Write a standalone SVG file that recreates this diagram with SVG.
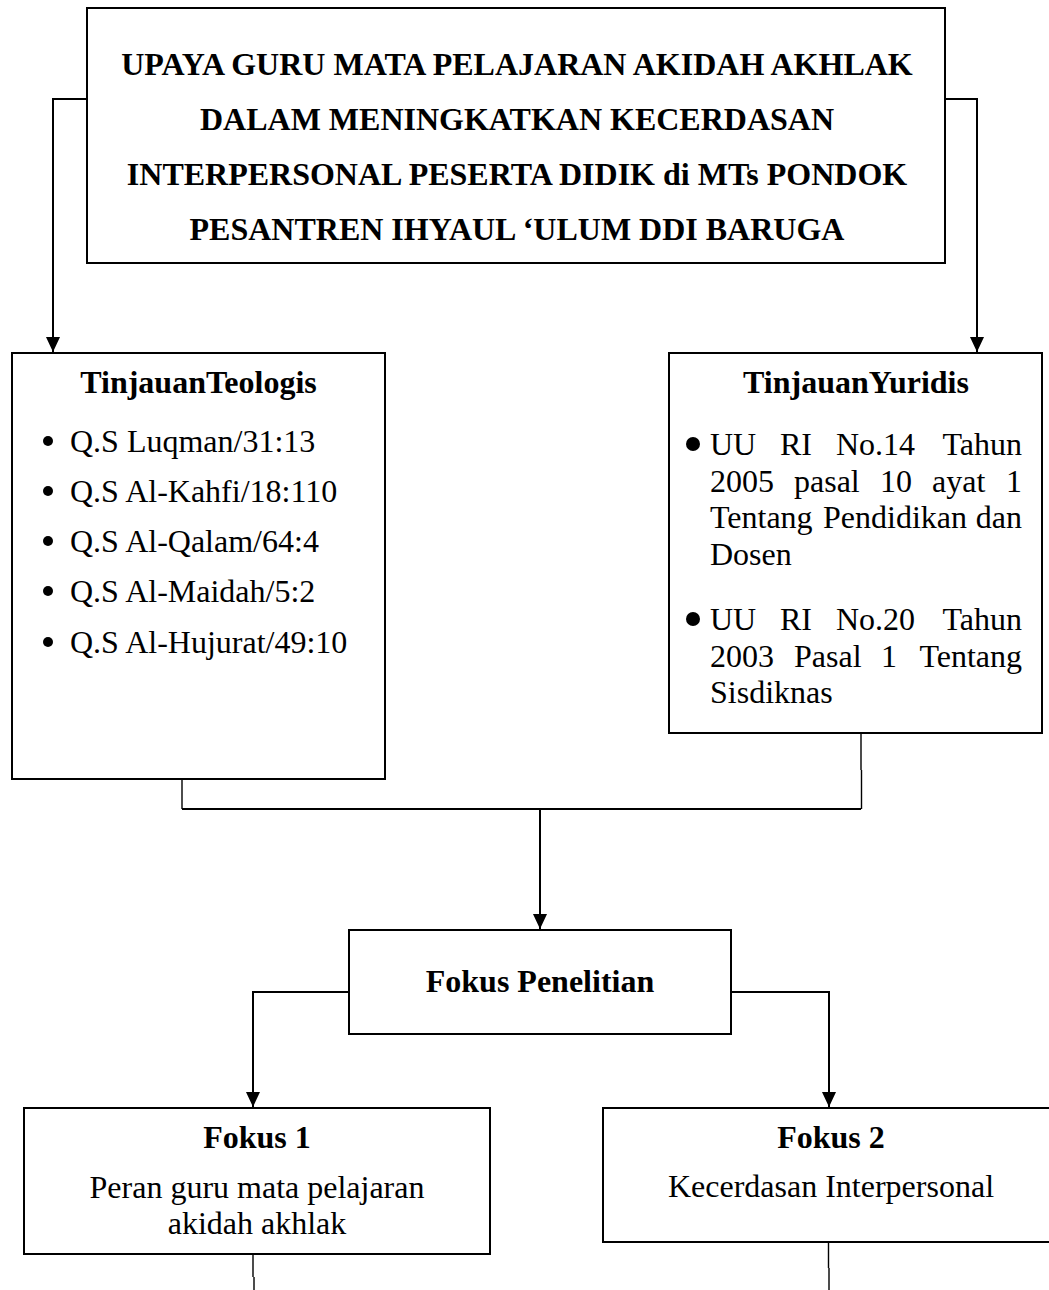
<svg xmlns="http://www.w3.org/2000/svg" width="1049" height="1290" viewBox="0 0 1049 1290">
<style>
.box{fill:#fff;stroke:#000;stroke-width:2}
.t{font-family:"Liberation Serif","Times New Roman",serif;font-size:32px;fill:#000}
.b{font-weight:bold}
.h{font-family:"Liberation Serif","Times New Roman",serif;font-size:32px;font-weight:bold;fill:#000}
.c{text-anchor:middle}
.ln{fill:none;stroke:#000;stroke-width:2}
.thin{fill:none;stroke:#000;stroke-width:1.4}
</style>
<defs>
<marker id="ah" markerUnits="userSpaceOnUse" markerWidth="16" markerHeight="16" refX="15" refY="7" orient="auto">
<path d="M0,0 L15,7 L0,14 z" fill="#000"/>
</marker>
</defs>
<rect width="1049" height="1290" fill="#fff"/>
<g id="connectors">
<path class="ln" d="M87,99 H53 V352" marker-end="url(#ah)"/>
<path class="ln" d="M945,99 H977 V352" marker-end="url(#ah)"/>
<path class="thin" d="M182,779 V809"/>
<path class="thin" d="M861,733 V770 M861.5,770 V809"/>
<path class="ln" d="M182,809 H861"/>
<path class="ln" d="M540,809 V929" marker-end="url(#ah)"/>
<path class="ln" d="M349,992 H253 V1107" marker-end="url(#ah)"/>
<path class="ln" d="M731,992 H829 V1107" marker-end="url(#ah)"/>
<path class="thin" d="M253,1254 V1277 M254,1277 V1290"/>
<path class="thin" d="M828.5,1242 V1268 M829,1268 V1290"/>
</g>
<g id="judul">
<rect class="box" x="87" y="8" width="858" height="255"/>
<text class="h c" x="517" y="75">UPAYA GURU MATA PELAJARAN AKIDAH AKHLAK</text>
<text class="h c" x="517" y="130">DALAM MENINGKATKAN KECERDASAN</text>
<text class="h c" x="517" y="185">INTERPERSONAL PESERTA DIDIK di MTs PONDOK</text>
<text class="h c" x="517" y="240">PESANTREN IHYAUL ‘ULUM DDI BARUGA</text>
</g>
<g id="teologis">
<rect class="box" x="12" y="353" width="373" height="426"/>
<text class="t b c" x="198.5" y="393">TinjauanTeologis</text>
<circle cx="48" cy="441" r="5"/>
<text class="t" x="70" y="452">Q.S Luqman/31:13</text>
<circle cx="48" cy="491" r="5"/>
<text class="t" x="70" y="502">Q.S Al-Kahfi/18:110</text>
<circle cx="48" cy="541" r="5"/>
<text class="t" x="70" y="552">Q.S Al-Qalam/64:4</text>
<circle cx="48" cy="591" r="5"/>
<text class="t" x="70" y="602">Q.S Al-Maidah/5:2</text>
<circle cx="48" cy="642" r="5"/>
<text class="t" x="70" y="653">Q.S Al-Hujurat/49:10</text>
</g>
<g id="yuridis">
<rect class="box" x="669" y="353" width="373" height="380"/>
<text class="t b c" x="856" y="393">TinjauanYuridis</text>
<circle cx="693" cy="444" r="7"/>
<text class="t"><tspan x="710" y="455">UU</tspan><tspan x="780" y="455">RI</tspan><tspan x="836" y="455">No.14</tspan><tspan x="1022" y="455" text-anchor="end">Tahun</tspan></text>
<text class="t"><tspan x="710" y="492">2005</tspan><tspan x="794" y="492">pasal</tspan><tspan x="880" y="492">10</tspan><tspan x="932" y="492">ayat</tspan><tspan x="1022" y="492" text-anchor="end">1</tspan></text>
<text class="t"><tspan x="710" y="528">Tentang</tspan><tspan x="823" y="528">Pendidikan</tspan><tspan x="1022" y="528" text-anchor="end">dan</tspan></text>
<text class="t" x="710" y="565">Dosen</text>
<circle cx="693" cy="619" r="7"/>
<text class="t"><tspan x="710" y="630">UU</tspan><tspan x="780" y="630">RI</tspan><tspan x="836" y="630">No.20</tspan><tspan x="1022" y="630" text-anchor="end">Tahun</tspan></text>
<text class="t"><tspan x="710" y="667">2003</tspan><tspan x="794" y="667">Pasal</tspan><tspan x="881" y="667">1</tspan><tspan x="1022" y="667" text-anchor="end">Tentang</tspan></text>
<text class="t" x="710" y="703">Sisdiknas</text>
</g>
<g id="fokus-penelitian">
<rect class="box" x="349" y="930" width="382" height="104"/>
<text class="t b c" x="540" y="992">Fokus Penelitian</text>
</g>
<g id="fokus-1">
<rect class="box" x="24" y="1108" width="466" height="146"/>
<text class="t b c" x="257" y="1148">Fokus 1</text>
<text class="t c" x="257" y="1198">Peran guru mata pelajaran</text>
<text class="t c" x="257" y="1234">akidah akhlak</text>
</g>
<g id="fokus-2">
<rect class="box" x="603" y="1108" width="456" height="134"/>
<text class="t b c" x="831" y="1148">Fokus 2</text>
<text class="t c" x="831" y="1197">Kecerdasan Interpersonal</text>
</g>
</svg>
